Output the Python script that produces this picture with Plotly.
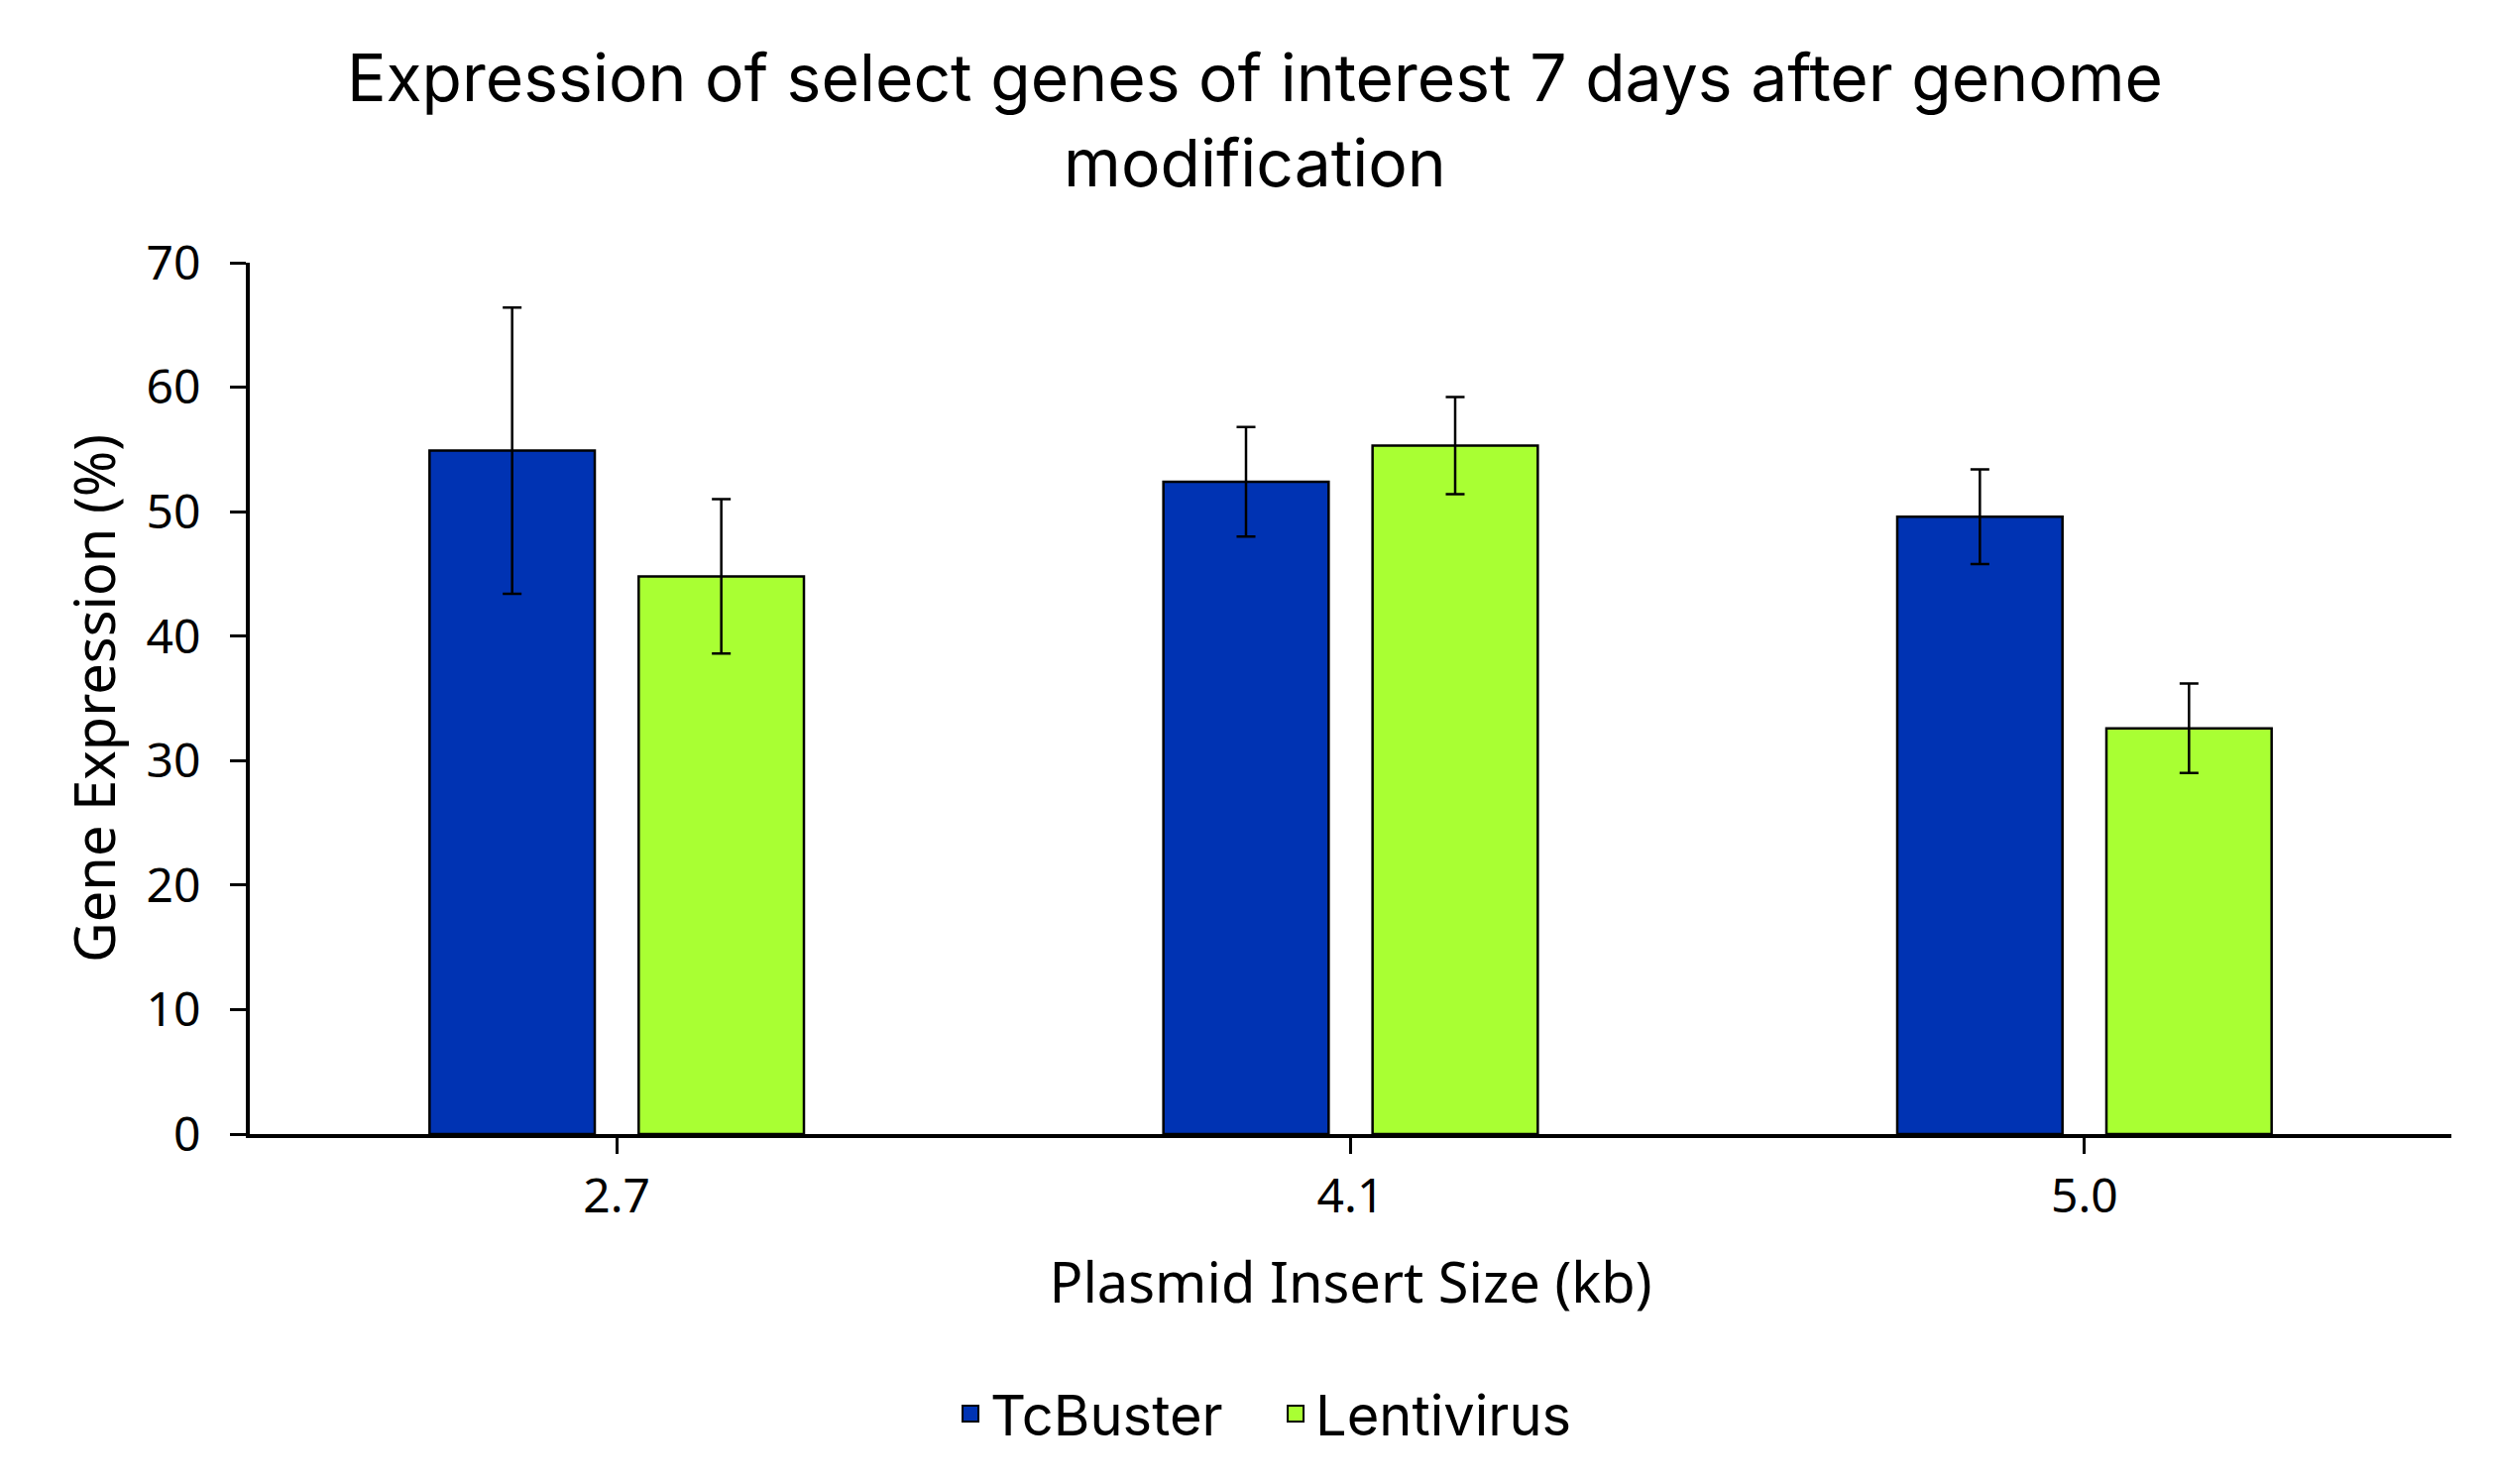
import plotly.graph_objects as go

# Data
insert_sizes = ["2.7", "4.1", "5.0"]
tcbuster = [54.9, 52.4, 49.6]
tcbuster_err = [11.5, 4.4, 3.8]
lentivirus = [44.8, 55.3, 32.6]
lentivirus_err = [6.2, 3.9, 3.6]

BLUE = "#0033B3"
GREEN = "#A9FF33"

fig = go.Figure()

for name, vals, errs, color in [
    ("TcBuster", tcbuster, tcbuster_err, BLUE),
    ("Lentivirus", lentivirus, lentivirus_err, GREEN),
]:
    fig.add_trace(go.Bar(
        x=insert_sizes, y=vals, name=name, legendgroup=name, showlegend=False,
        marker=dict(color=color, line=dict(color="black", width=2.5)),
        error_y=dict(type="data", array=errs, color="black", thickness=2.5, width=9.5),
    ))
    # legend-only entry so the swatch can be bigger than the bar default
    fig.add_trace(go.Scatter(
        x=[None], y=[None], name=name, legendgroup=name, mode="markers",
        marker=dict(symbol="square", size=16, color=color,
                    line=dict(color="black", width=2)),
    ))

fig.update_layout(
    width=2516, height=1497,
    paper_bgcolor="white", plot_bgcolor="white",
    margin=dict(l=244, r=51, t=257, b=361),
    barmode="group", bargap=0.43, bargroupgap=0.21,
    title=dict(
        text="Expression of select genes of interest 7 days after genome<br>modification",
        font=dict(family="Inter", size=66, color="black"),
        xref="container", x=0.5, xanchor="center",
        yref="container", y=1 - 94 / 1497, yanchor="middle",
    ),
    legend=dict(
        orientation="h", xref="container", x=0.378, xanchor="left",
        yref="container", y=1 - 1418 / 1497, yanchor="middle",
        font=dict(family="Inter", size=56, color="black"),
        itemwidth=30, entrywidth=283, entrywidthmode="pixels",
    ),
)

fig.update_xaxes(
    showline=True, linecolor="black", linewidth=4,
    ticks="outside", ticklen=16, tickwidth=3, tickcolor="black",
    tickfont=dict(family="Noto Sans", size=48, color="black"),
    ticklabelstandoff=1,
    title=dict(text="Plasmid Insert Size (kb)", standoff=40,
               font=dict(family="Noto Sans", size=56, color="black")),
    showgrid=False,
)
fig.update_yaxes(
    range=[0, 70], dtick=10,
    showline=True, linecolor="black", linewidth=4,
    ticks="outside", ticklen=16, tickwidth=3, tickcolor="black",
    tickfont=dict(family="Noto Sans", size=48, color="black"),
    ticklabelstandoff=20,
    title=dict(text="Gene Expression (%)", standoff=14,
               font=dict(family="Noto Sans", size=56, color="black")),
    showgrid=False, zeroline=False,
)

fig.write_html("out.html")
